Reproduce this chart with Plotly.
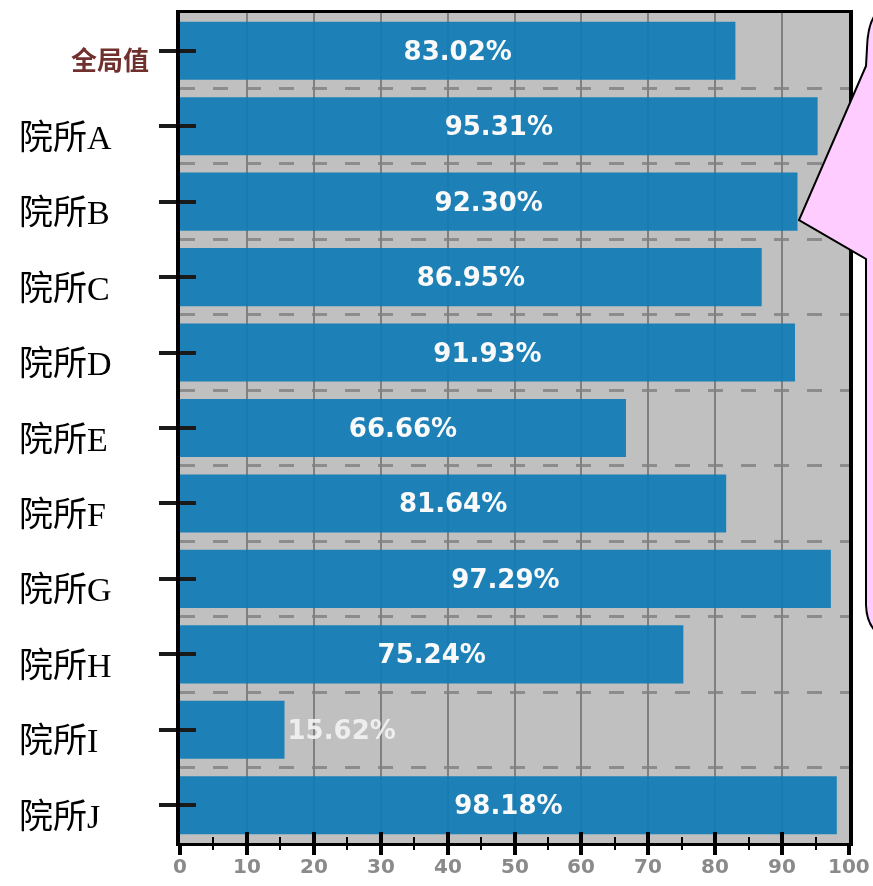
import plotly.graph_objects as go

categories = ["全局值", "院所A", "院所B", "院所C", "院所D", "院所E",
              "院所F", "院所G", "院所H", "院所I", "院所J"]
values = [83.02, 95.31, 92.30, 86.95, 91.93, 66.66, 81.64, 97.29, 75.24, 15.62, 98.18]
x_ticks = [0, 10, 20, 30, 40, 50, 60, 70, 80, 90, 100]

# plot-area pixel geometry (for paper-coordinate decorations)
W, H = 873, 886
L, R, T, B = 180, 849, 13, 843


def px(xp):
    return (xp - L) / (R - L)


def py(yp):
    return (B - yp) / (B - T)


idx = list(range(len(categories)))
text_pos = ["outside" if v < 20 else "inside" for v in values]

fig = go.Figure()
fig.add_trace(go.Bar(
    x=values, y=idx, orientation="h", width=0.77,
    marker=dict(color="#0f7cb6", line=dict(width=0)), opacity=0.92,
    texttemplate="%{x:.2f}%", textposition=text_pos,
    insidetextanchor="middle",
    textfont=dict(family="DejaVu Sans", size=26, color="white", weight="bold"),
    outsidetextfont=dict(family="DejaVu Sans", size=26, color="#f2f2f2", weight="bold"),
    cliponaxis=False, hoverinfo="skip", showlegend=False,
))
# invisible trace to create the overlay axes carrying the inward tick halves
fig.add_trace(go.Scatter(x=[0], y=[0], xaxis="x2", yaxis="y2", mode="markers",
                         marker=dict(opacity=0), hoverinfo="skip", showlegend=False))

yr = [len(categories) - 0.5, -0.5]
fig.update_layout(
    width=W, height=H,
    margin=dict(l=L, r=W - R, t=T, b=H - B),
    paper_bgcolor="white", plot_bgcolor="#c0c0c0",
    xaxis=dict(range=[0, 100], tickvals=x_ticks, showgrid=True, gridcolor="#808080", gridwidth=2,
               showline=True, linecolor="black", linewidth=3, mirror=True,
               ticks="outside", ticklen=9, tickwidth=4, tickcolor="black", showticklabels=False,
               minor=dict(dtick=5, ticks="outside", ticklen=4, tickwidth=2, tickcolor="black", showgrid=False),
               zeroline=False, fixedrange=True, automargin=False),
    yaxis=dict(range=yr, tickvals=idx, showticklabels=False, showgrid=False,
               showline=True, linecolor="black", linewidth=4, mirror=True,
               ticks="outside", ticklen=17, tickwidth=4, tickcolor="#1a1a1a",
               minor=dict(tickmode="array", tickvals=[i + 0.5 for i in idx[:-1]], ticks="",
                          showgrid=True, gridcolor="#8c8c8c", gridwidth=3, griddash="15px,18px"),
               zeroline=False, fixedrange=True, automargin=False),
    xaxis2=dict(overlaying="x", anchor="y2", side="bottom", range=[0, 100], tickvals=x_ticks,
                showticklabels=False, showgrid=False, showline=False, zeroline=False,
                ticks="inside", ticklen=11, tickwidth=4, tickcolor="black", automargin=False,
                minor=dict(dtick=5, ticks="inside", ticklen=6, tickwidth=2, tickcolor="black", showgrid=False)),
    yaxis2=dict(overlaying="y", anchor="x2", side="left", range=yr, tickvals=idx,
                showticklabels=False, showgrid=False, showline=False, zeroline=False, automargin=False,
                ticks="inside", ticklen=16, tickwidth=4, tickcolor="#1a1a1a"),
)

# x tick labels (placed on the x data scale)
for v in x_ticks:
    fig.add_annotation(x=v, y=py(866), xref="x", yref="paper", text=str(v), showarrow=False,
                       xanchor="center", yanchor="middle",
                       font=dict(family="DejaVu Sans", size=20, color="#8a8a8a", weight="bold"))

# category labels
for i, c in enumerate(categories):
    if i == 0:
        fig.add_annotation(x=px(151), y=i, xref="paper", yref="y", text=c, showarrow=False,
                           xanchor="right", yanchor="middle", yshift=-8,
                           font=dict(family="Noto Sans CJK SC", size=26, color="#70302e", weight="bold"))
    else:
        fig.add_annotation(x=px(17), y=i, xref="paper", yref="y", text=c, showarrow=False,
                           xanchor="left", yanchor="middle", yshift=-11,
                           font=dict(family="Liberation Serif, Noto Sans CJK TC", size=34, color="black"))

# pink callout bubble
pts = [
    f"M {px(905)} {py(-5)}",
    f"L {px(884)} {py(8)}",
    f"Q {px(868)} {py(14)} {px(867)} {py(48)}",
    f"L {px(866)} {py(66)}",
    f"L {px(799)} {py(220)}",
    f"L {px(866)} {py(259)}",
    f"L {px(866)} {py(605)}",
    f"Q {px(867)} {py(636)} {px(895)} {py(640)}",
    f"L {px(905)} {py(640)}",
    "Z",
]
fig.add_shape(type="path", path=" ".join(pts), xref="paper", yref="paper",
              fillcolor="#ffccff", line=dict(color="black", width=2), layer="above")

fig.write_html("out.html", config={"displayModeBar": False, "staticPlot": True},
               post_script="document.body.style.margin='0';document.body.style.overflow='hidden';")
